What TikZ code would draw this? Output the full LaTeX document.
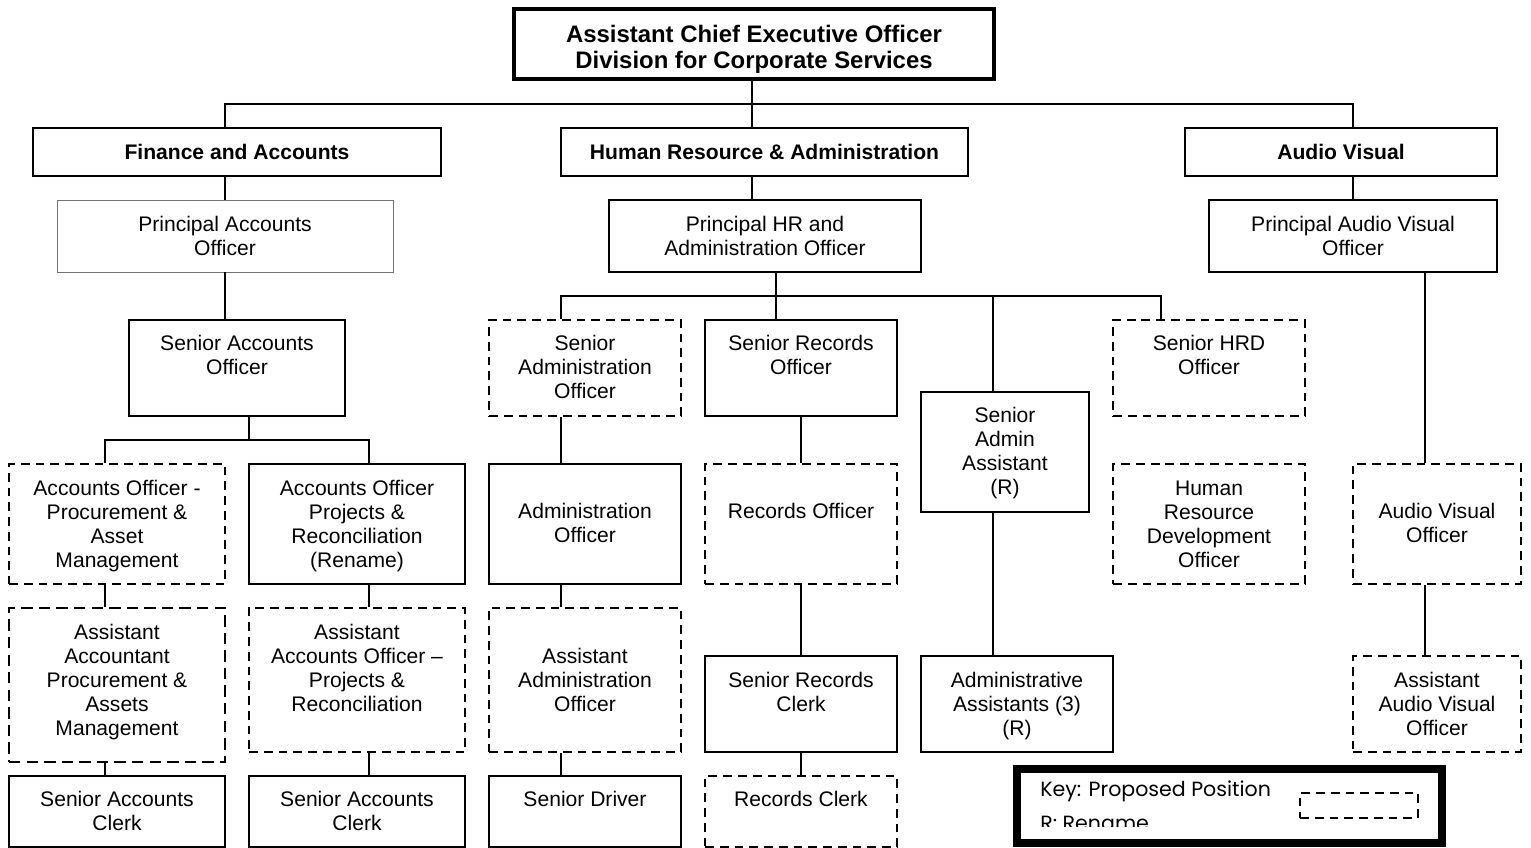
\documentclass[tikz,border=0pt]{standalone}
\usepackage{fontspec}
\setmainfont{Liberation Sans}
\newfontfamily\keyfont{Poppins}
\usetikzlibrary{fit}
% \orgbox{name}{box style}{text style}{x1}{y1}{x2}{y2}{first line y}{text}
\newcommand\orgbox[9]{%
  \node[#2, fit={(#4,#5) (#6,#7)}, inner sep=0pt] (#1) {};
  \node[#3] (#1-t) at ({(#4+#6)/2},#8) {\strut #9};
}
\begin{document}
\begin{tikzpicture}[x=0.02cm, y=-0.02cm,
  solidbox/.style={draw, line width=1pt},
  dashbox/.style={draw, line width=1pt, dash pattern=on 5pt off 3.4pt},
  dashbold/.style={draw, line width=1.6pt, dash pattern=on 6.5pt off 3.5pt},
  thinbox/.style={draw=black!55, line width=0.55pt},
  headbox/.style={draw, line width=1.5pt},
  topbox/.style={draw, line width=2.3pt},
  keybox/.style={draw, line width=5pt},
  txt/.style={align=center, inner sep=0pt, anchor=north, yshift=5.3pt,
    font=\fontsize{12}{13.66}\selectfont},
  headtxt/.style={txt, font=\bfseries\fontsize{12}{13.66}\selectfont},
  titletxt/.style={align=center, inner sep=0pt, anchor=north, yshift=5.5pt,
    font=\bfseries\fontsize{13.6}{14.8}\selectfont},
  keytxt/.style={align=left, inner sep=0pt, anchor=base west,
    font=\keyfont\fontsize{11.7}{14}\selectfont},
  link/.style={line width=1pt},
]
\useasboundingbox (0,0) rectangle (1531,848);

% executive and divisions
\orgbox{top}{topbox}{titletxt}{514}{9}{994}{79}{34}{Assistant Chief Executive Officer\\Division for Corporate Services}
\orgbox{fin}{headbox}{headtxt}{33}{128}{441}{176}{152}{Finance and Accounts}
\orgbox{hr}{headbox}{headtxt}{561}{128}{968}{176}{152}{Human Resource \& Administration}
\orgbox{av}{headbox}{headtxt}{1185}{128}{1497}{176}{152}{Audio Visual}

% principal officers
\orgbox{pao}{thinbox}{txt}{57}{200}{393}{272}{224}{Principal Accounts\\Officer}
\orgbox{phr}{solidbox}{txt}{609}{200}{921}{272}{224}{Principal HR and\\Administration Officer}
\orgbox{pav}{solidbox}{txt}{1209}{200}{1497}{272}{224}{Principal Audio Visual\\Officer}

% finance and accounts
\orgbox{sao}{solidbox}{txt}{129}{320}{345}{416}{343}{Senior Accounts\\Officer}
\orgbox{ao1}{dashbox}{txt}{9}{464}{225}{584}{488}{Accounts Officer -\\Procurement \&\\Asset\\Management}
\orgbox{ao2}{solidbox}{txt}{249}{464}{465}{584}{488}{Accounts Officer\\Projects \&\\Reconciliation\\(Rename)}
\orgbox{aa1}{dashbold}{txt}{9}{608}{225}{762}{632}{Assistant\\Accountant\\Procurement \&\\Assets\\Management}
\orgbox{aa2}{dashbox}{txt}{249}{608}{465}{752}{632}{Assistant\\Accounts Officer --\\Projects \&\\Reconciliation}
\orgbox{sc1}{solidbox}{txt}{9}{776}{225}{847}{799}{Senior Accounts\\Clerk}
\orgbox{sc2}{solidbox}{txt}{249}{776}{465}{847}{799}{Senior Accounts\\Clerk}

% human resource and administration
\orgbox{sado}{dashbox}{txt}{489}{320}{681}{416}{343}{Senior\\Administration\\Officer}
\orgbox{sro}{solidbox}{txt}{705}{320}{897}{416}{343}{Senior Records\\Officer}
\orgbox{saa}{solidbox}{txt}{921}{392}{1089}{512}{415}{Senior\\Admin\\Assistant\\(R)}
\orgbox{shrd}{dashbox}{txt}{1113}{320}{1305}{416}{343}{Senior HRD\\Officer}
\orgbox{admo}{solidbox}{txt}{489}{464}{681}{584}{511}{Administration\\Officer}
\orgbox{reco}{dashbox}{txt}{705}{464}{897}{584}{511}{Records Officer}
\orgbox{hrdo}{dashbox}{txt}{1113}{464}{1305}{584}{488}{Human\\Resource\\Development\\Officer}
\orgbox{asado}{dashbox}{txt}{489}{608}{681}{752}{656}{Assistant\\Administration\\Officer}
\orgbox{src}{solidbox}{txt}{705}{656}{897}{752}{680}{Senior Records\\Clerk}
\orgbox{adas}{solidbox}{txt}{921}{656}{1113}{752}{680}{Administrative\\Assistants (3)\\(R)}
\orgbox{drv}{solidbox}{txt}{489}{776}{681}{847}{799}{Senior Driver}
\orgbox{rc}{dashbox}{txt}{705}{776}{897}{847}{799}{Records Clerk}

% audio visual
\orgbox{avo}{dashbox}{txt}{1353}{464}{1521}{584}{511}{Audio Visual\\Officer}
\orgbox{aavo}{dashbox}{txt}{1353}{656}{1521}{752}{680}{Assistant\\Audio Visual\\Officer}

% junction points of the connector lines
\coordinate (j1) at (752,104);
\coordinate (j1L) at (225,104);
\coordinate (j1R) at (1353,104);
\coordinate (j2) at (249,440);
\coordinate (j2L) at (105,440);
\coordinate (j2R) at (369,440);
\coordinate (j3) at (776,296);
\coordinate (j3L) at (561,296);
\coordinate (j3M) at (993,296);
\coordinate (j3R) at (1161,296);
\coordinate (jrec) at (801,296);
\coordinate (jav) at (1425,296);

% top level
\draw[link] (j1 |- top.south) -- (j1 |- hr.north);
\draw[link] (j1L |- fin.north) -- (j1L) -- (j1R) -- (j1R |- av.north);
\draw[link] (j1L |- fin.south) -- (j1L |- pao.north);
\draw[link] (j1 |- hr.south) -- (j1 |- phr.north);
\draw[link] (j1R |- av.south) -- (j1R |- pav.north);

% finance and accounts
\draw[link] (j1L |- pao.south) -- (j1L |- sao.north);
\draw[link] (j2 |- sao.south) -- (j2);
\draw[link] (j2L |- ao1.north) -- (j2L) -- (j2R) -- (j2R |- ao2.north);
\draw[link] (j2L |- ao1.south) -- (j2L |- aa1.north);
\draw[link] (j2L |- aa1.south) -- (j2L |- sc1.north);
\draw[link] (j2R |- ao2.south) -- (j2R |- aa2.north);
\draw[link] (j2R |- aa2.south) -- (j2R |- sc2.north);

% human resource and administration
\draw[link] (j3 |- phr.south) -- (j3 |- sro.north);
\draw[link] (j3L |- sado.north) -- (j3L) -- (j3R) -- (j3R |- shrd.north);
\draw[link] (j3M) -- (j3M |- saa.north);
\draw[link] (j3L |- sado.south) -- (j3L |- admo.north);
\draw[link] (j3L |- admo.south) -- (j3L |- asado.north);
\draw[link] (j3L |- asado.south) -- (j3L |- drv.north);
\draw[link] (jrec |- sro.south) -- (jrec |- reco.north);
\draw[link] (jrec |- reco.south) -- (jrec |- src.north);
\draw[link] (jrec |- src.south) -- (jrec |- rc.north);
\draw[link] (j3M |- saa.south) -- (j3M |- adas.north);

% audio visual
\draw[link] (jav |- pav.south) -- (jav |- avo.north);
\draw[link] (jav |- avo.south) -- (jav |- aavo.north);

% key
\node[keybox, fit={(1017,769) (1442,843)}, inner sep=0pt] (key) {};
\node[dashbox, fit={(1300,793) (1418,818)}, inner sep=0pt] (keysample) {};
\begin{scope}
  \clip (1022,774) rectangle (1437,826.5);
  \node[keytxt] (key-a) at (1040,796) {Key: Proposed Position};
  \node[keytxt] (key-b) at (1040,830) {R: Rename};
\end{scope}
\end{tikzpicture}
\end{document}
